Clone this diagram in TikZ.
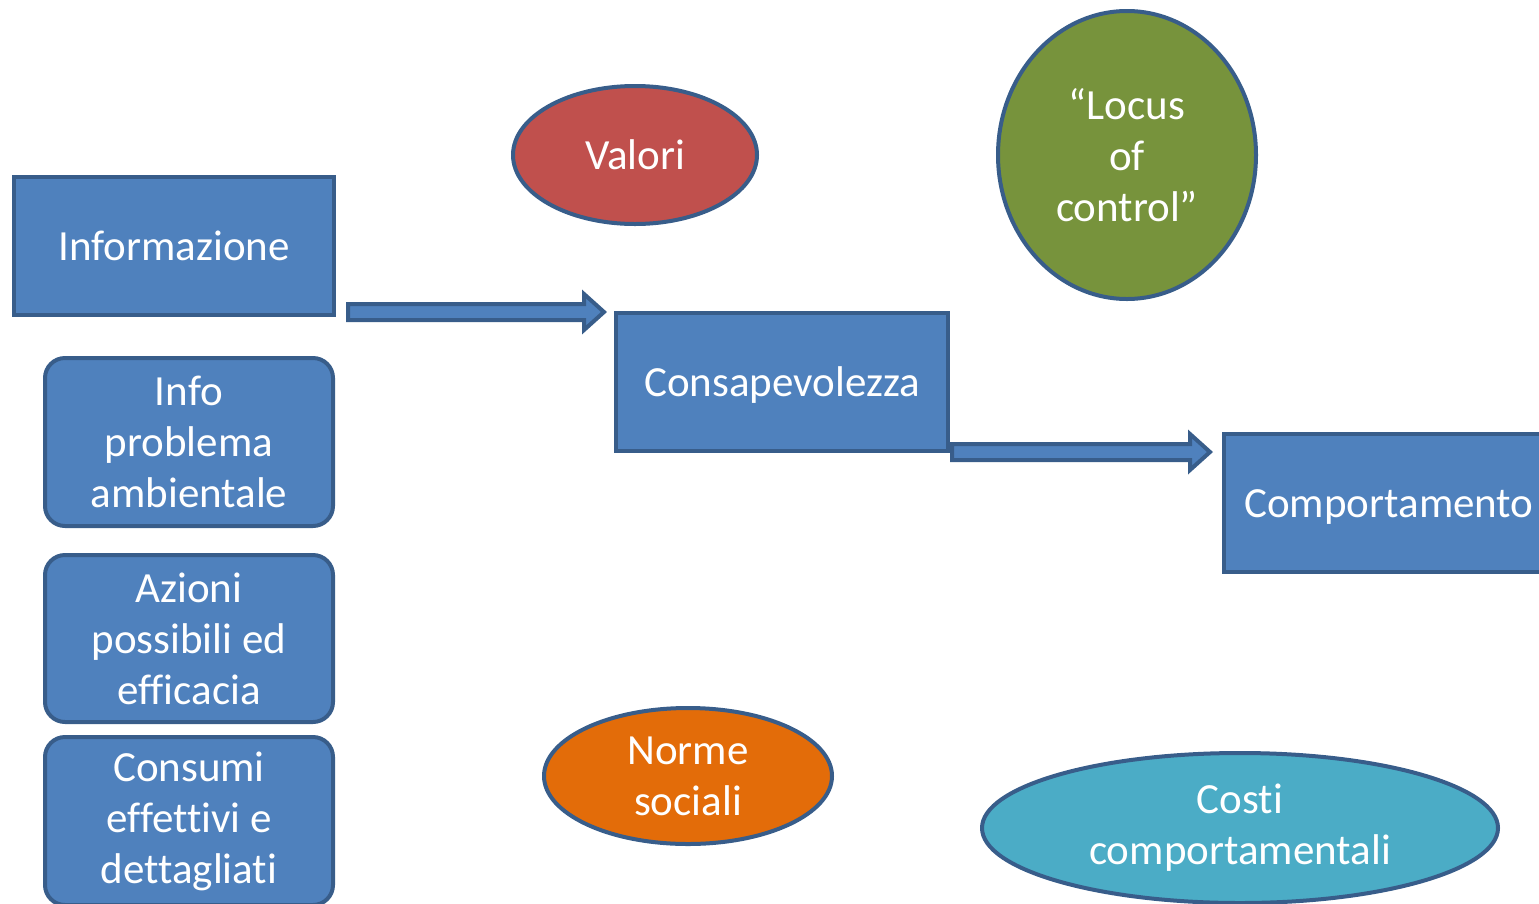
\documentclass[tikz,border=0pt]{standalone}
\usepackage{fontspec}
\setmainfont[Ligatures=NoCommon]{Carlito}
\usetikzlibrary{shapes.geometric,calc}
\definecolor{boxblue}{HTML}{4F81BD}
\definecolor{edgeblue}{HTML}{385D8A}
\definecolor{valred}{HTML}{C0504D}
\definecolor{locgreen}{HTML}{77933C}
\definecolor{normorange}{HTML}{E36C09}
\definecolor{costteal}{HTML}{4BACC6}
\newcommand{\officestrut}{\rule[-11.6pt]{0pt}{52.5pt}}
\tikzset{
  base/.style={draw=edgeblue, line width=4pt, text=white, inner sep=0pt, align=center,
    font=\fontsize{43}{51}\selectfont},
  oneline/.style={execute at begin node=\officestrut},
  sqbox/.style={base, oneline, rectangle, fill=boxblue, minimum height=138pt},
  rbox/.style={base, rectangle, rounded corners=20pt, fill=boxblue, minimum width=288pt},
  oval/.style={base, ellipse},
  blk/.style={draw=edgeblue, fill=boxblue, line width=4pt, line join=miter}
}
\begin{document}
\begin{tikzpicture}[x=1pt,y=-1pt]
\useasboundingbox (0,0) rectangle (1539,903);
\clip (0,0) rectangle (1539,903);
\node[sqbox, minimum width=320pt] (info) at (174,246) {Informazione};
\node[sqbox, minimum width=332pt] (cons) at (782,382) {Consapevolezza};
\node[sqbox, minimum width=332pt] (comp) at (1390,503) {\hspace*{-2pt}Comportamento};
\node[rbox, minimum height=168pt] (prob) at (189,442) {Info\\problema\\ambientale};
\node[rbox, minimum height=167pt] (azio) at (189,638.5) {Azioni\\possibili ed\\efficacia};
\node[rbox, minimum height=168pt] (cons2) at (189,821) {Consumi\\effettivi e\\dettagliati};
\node[oval, oneline, fill=valred, minimum width=244pt, minimum height=138pt] (val) at (635,155) {Valori};
\node[oval, fill=locgreen, minimum width=258pt, minimum height=288pt] (loc) at (1127,155) {“Locus\\of\\control”};
\node[oval, fill=normorange, minimum width=288pt, minimum height=136pt] (norm) at (688,776) {Norme\\sociali};
\node[oval, fill=costteal, minimum width=516pt, minimum height=150pt] (cost) at (1240,828) {Costi\\comportamentali};
% arrow 1
\coordinate (a1s) at ($(info.east|-cons.north)+(12,1)$);
\coordinate (a1e) at ($(cons.west|-cons.north)+(-10,1)$);
\draw[blk] ($(a1s)+(0,-8)$) -- ($(a1e)+(-20,-8)$) -- ($(a1e)+(-20,-18)$) -- (a1e)
  -- ($(a1e)+(-20,18)$) -- ($(a1e)+(-20,8)$) -- ($(a1s)+(0,8)$) -- cycle;
% arrow 2
\coordinate (a2s) at ($(cons.east|-cons.south)+(2,-1)$);
\coordinate (a2e) at ($(comp.west|-cons.south)+(-12,-1)$);
\draw[blk] ($(a2s)+(0,-8)$) -- ($(a2e)+(-20,-8)$) -- ($(a2e)+(-20,-18)$) -- (a2e)
  -- ($(a2e)+(-20,18)$) -- ($(a2e)+(-20,8)$) -- ($(a2s)+(0,8)$) -- cycle;
\end{tikzpicture}
\end{document}
